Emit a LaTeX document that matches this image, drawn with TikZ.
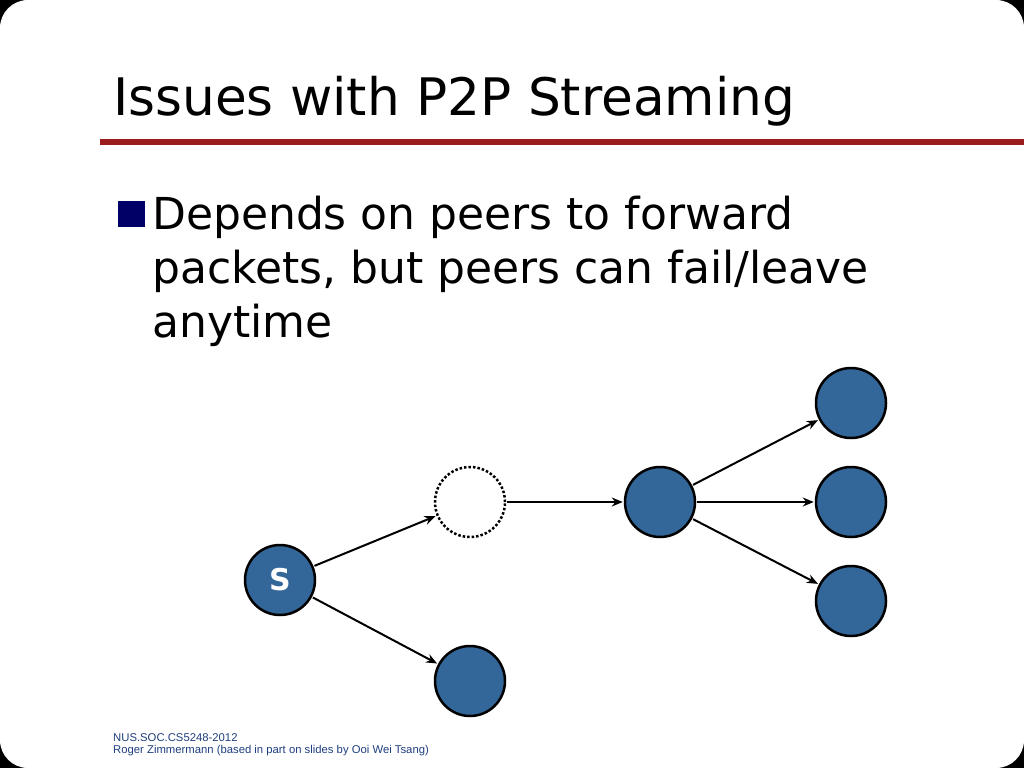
\documentclass[tikz,border=0pt]{standalone}
\usepackage{fontspec}
\setmainfont{DejaVu Sans}
\newfontfamily\footfont{Liberation Sans}
\usetikzlibrary{arrows.meta}
\definecolor{peerblue}{HTML}{336699}
\definecolor{rulered}{HTML}{9B1C1C}
\definecolor{bulletnavy}{HTML}{000066}
\definecolor{footblue}{HTML}{1F3F7F}
\begin{document}
\begin{tikzpicture}[x=1pt, y=-1pt, >={Stealth[width=9pt,length=11pt]},
  peer/.style={circle, draw=black, line width=2.5pt, fill=peerblue, minimum size=70pt, inner sep=0pt},
  gone/.style={circle, draw=black, line width=2.5pt, dotted, minimum size=70pt, inner sep=0pt},
  link/.style={->, line width=2pt, shorten >=1pt, shorten <=1pt},
  bodytext/.style={anchor=base west, inner sep=0pt, font=\fontsize{44}{53}\selectfont},
  foottext/.style={anchor=base west, inner sep=0pt, text=footblue, font=\footfont\fontsize{11.3}{13}\selectfont}]
  \useasboundingbox (0,0) rectangle (1024,768);
  \fill[black] (0,0) rectangle (1024,768);
  \fill[white, rounded corners=28pt] (0,0) rectangle (1024,768);
  % title
  \node[anchor=base west, inner sep=0pt, font=\fontsize{51.7}{60}\selectfont] (title) at (113,115) {Issues with P2P Streaming};
  \fill[rulered] (100,139) rectangle (1024,145);
  % bullet
  \fill[bulletnavy] (118,201) rectangle (145,227);
  \node[bodytext] (line1) at (152,229) {Depends on peers to forward};
  \node[bodytext] (line2) at (152,283) {packets, but peers can fail/leave};
  \node[bodytext] (line3) at (152,337) {anytime};
  % peers
  \node[peer, text=white, font=\bfseries\fontsize{30}{30}\selectfont] (s) at (280,580) {S};
  \node[gone] (lost) at (470,502) {};
  \node[peer] (mid) at (660,502) {};
  \node[peer] (top) at (851,403) {};
  \node[peer] (right) at (851,502) {};
  \node[peer] (low) at (851,601) {};
  \node[peer] (bottom) at (470,681) {};
  \draw[link] (s) -- (lost);
  \draw[link] (s) -- (bottom);
  \draw[link] (lost) -- (mid);
  \draw[link] (mid) -- (top);
  \draw[link] (mid) -- (right);
  \draw[link] (mid) -- (low);
  % footer
  \node[foottext] (foot1) at (113,741) {NUS.SOC.CS5248-2012};
  \node[foottext] (foot2) at (113,753) {Roger Zimmermann (based in part on slides by Ooi Wei Tsang)};
\end{tikzpicture}
\end{document}
